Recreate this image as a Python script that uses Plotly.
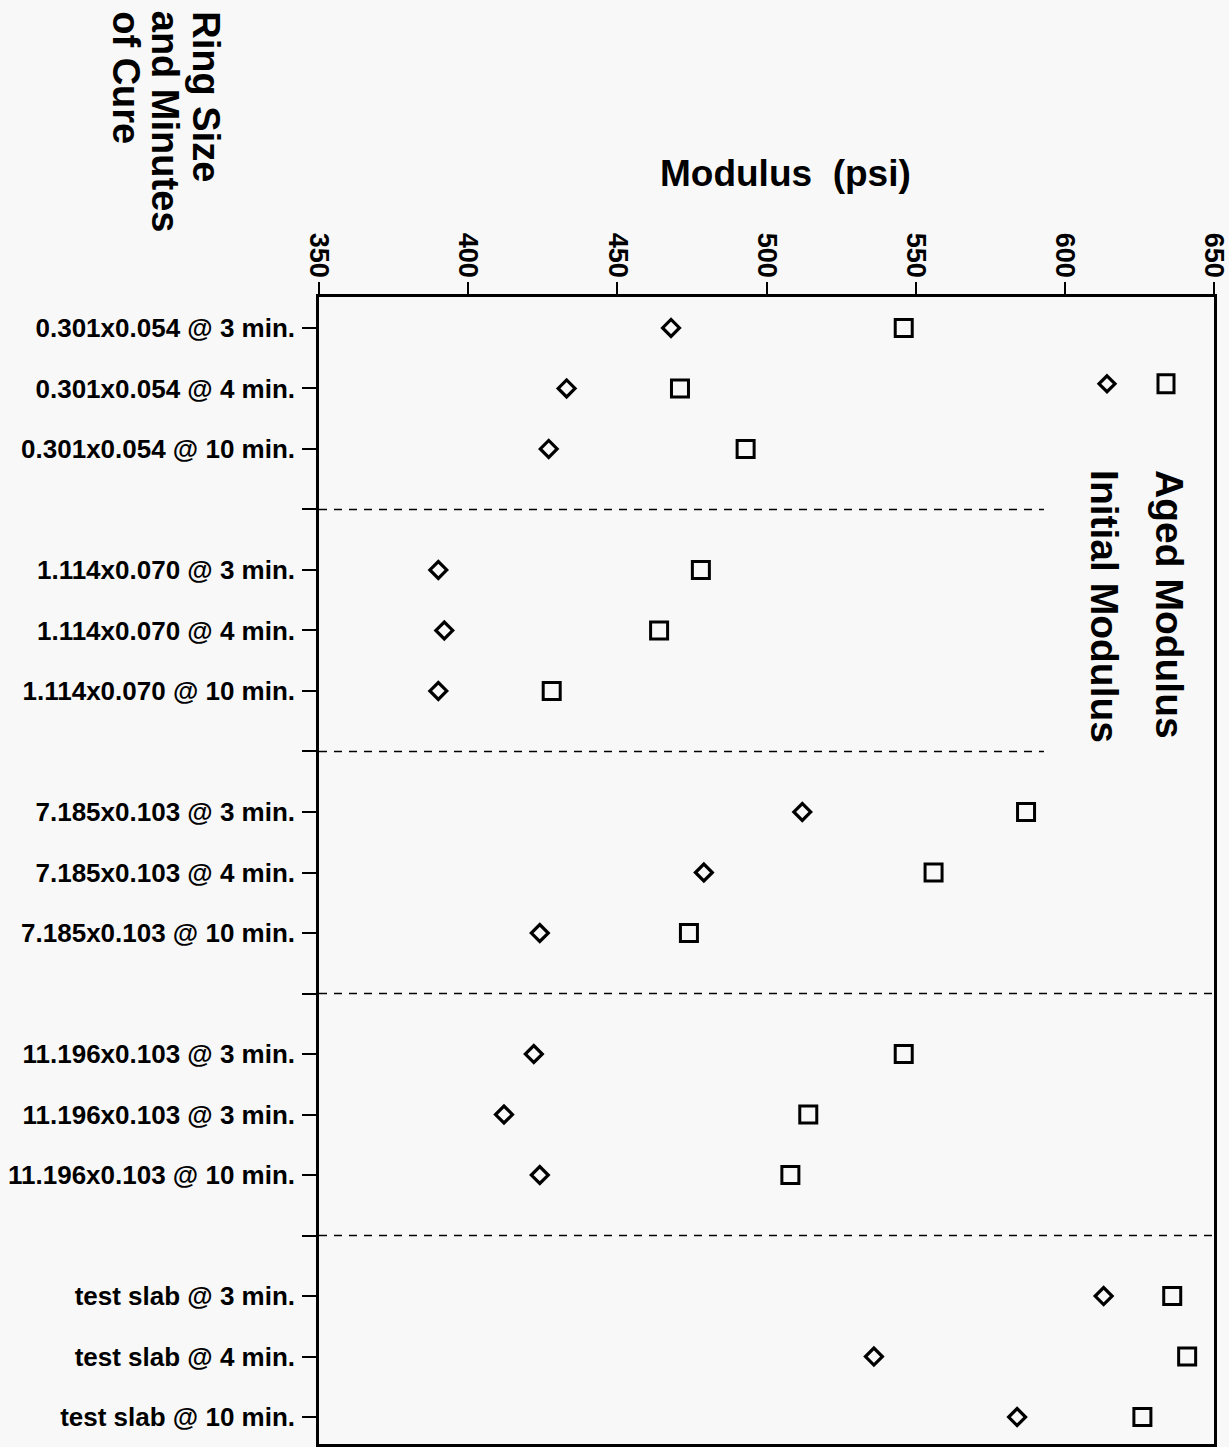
import plotly.graph_objects as go

# ---------------- data ----------------
categories = [
    "0.301x0.054 @ 3 min.", "0.301x0.054 @ 4 min.", "0.301x0.054 @ 10 min.", "",
    "1.114x0.070 @ 3 min.", "1.114x0.070 @ 4 min.", "1.114x0.070 @ 10 min.", "",
    "7.185x0.103 @ 3 min.", "7.185x0.103 @ 4 min.", "7.185x0.103 @ 10 min.", "",
    "11.196x0.103 @ 3 min.", "11.196x0.103 @ 3 min.", "11.196x0.103 @ 10 min.", "",
    "test slab @ 3 min.", "test slab @ 4 min.", "test slab @ 10 min.",
]
initial_modulus = [468, 433, 427, None,
                   390, 392, 390, None,
                   512, 479, 424, None,
                   422, 412, 424, None,
                   613, 536, 584]
aged_modulus = [546, 471, 493, None,
                478, 464, 428, None,
                587, 556, 474, None,
                546, 514, 508, None,
                636, 641, 626]
x_ticks = [350, 400, 450, 500, 550, 600, 650]
separator_rows = [3, 7, 11, 15]
separator_end = [593, 593, 650, 650]

# ---------------- layout geometry ----------------
W, H = 1229, 1447
L, R, T, B = 319, 15, 297, 0
PW, PH = W - L - R, H - T - B
BG = "#f8f8f8"
FONT = "Liberation Sans, Arial, sans-serif"


def px(xp):
    return (xp - L) / PW


def py(yp):
    return (H - B - yp) / PH


rows = list(range(len(categories)))

fig = go.Figure()
fig.add_trace(go.Scatter(
    x=initial_modulus, y=rows, mode="markers", name="Initial Modulus",
    marker=dict(symbol="diamond-open", size=13, color="black",
                line=dict(width=3.2, color="black")),
    showlegend=False,
))
fig.add_trace(go.Scatter(
    x=aged_modulus, y=rows, mode="markers", name="Aged Modulus",
    marker=dict(symbol="square-open", size=17, color="black",
                line=dict(width=3, color="black")),
    showlegend=False,
))

shapes = []
for r, xe in zip(separator_rows, separator_end):
    shapes.append(dict(type="line", xref="x", yref="y", x0=350, x1=xe, y0=r, y1=r,
                       line=dict(color="black", width=1.5, dash="8px,7px")))

# legend keys (drawn in paper space, rotated legend)
sx, sy = 1166, 384
shapes.append(dict(type="rect", xref="paper", yref="paper",
                   x0=px(sx - 8), x1=px(sx + 8), y0=py(sy + 9), y1=py(sy - 9),
                   line=dict(color="black", width=3)))
dx, dy = 1107, 384
path = (f"M {px(dx)} {py(dy - 8)} L {px(dx + 8)} {py(dy)} "
        f"L {px(dx)} {py(dy + 8)} L {px(dx - 8)} {py(dy)} Z")
shapes.append(dict(type="path", xref="paper", yref="paper", path=path,
                   line=dict(color="black", width=3.2)))

annotations = [
    dict(text="Modulus&nbsp; (psi)", xref="paper", yref="paper",
         x=px(785), y=py(173), xanchor="center", yanchor="middle",
         showarrow=False, font=dict(family=FONT, size=37, color="black", weight="bold")),
    dict(text="Aged Modulus", xref="paper", yref="paper", textangle=90,
         x=px(1170), y=py(468), xanchor="center", yanchor="top",
         showarrow=False, font=dict(family=FONT, size=39, color="black", weight="bold")),
    dict(text="Initial Modulus", xref="paper", yref="paper", textangle=90,
         x=px(1105), y=py(468), xanchor="center", yanchor="top",
         showarrow=False, font=dict(family=FONT, size=39, color="black", weight="bold")),
]
for txt, cx in [("Ring Size", 206), ("and Minutes", 165), ("of Cure", 126)]:
    annotations.append(dict(text=txt, xref="paper", yref="paper", textangle=90,
                            x=px(cx), y=py(8), xanchor="center", yanchor="top",
                            showarrow=False,
                            font=dict(family=FONT, size=38, color="black", weight="bold")))

fig.update_layout(
    width=W, height=H,
    margin=dict(l=L, r=R, t=T, b=B, pad=0),
    paper_bgcolor=BG, plot_bgcolor=BG,
    shapes=shapes, annotations=annotations,
    showlegend=False,
)
fig.update_xaxes(
    side="top", range=[350, 650], tickvals=x_ticks,
    ticktext=[str(v) for v in x_ticks], tickangle=90,
    ticks="outside", ticklen=12, tickwidth=2, tickcolor="black",
    showline=True, linewidth=2.5, linecolor="black", mirror=True,
    showgrid=False, zeroline=False, ticklabelstandoff=-5,
    ticklabeloverflow="allow",
    tickfont=dict(family=FONT, size=27, color="black", weight="bold"),
)
fig.update_yaxes(
    range=[18.445, -0.511], tickvals=rows, ticktext=categories,
    ticks="outside", ticklen=14, tickwidth=2, tickcolor="black",
    showline=True, linewidth=2.5, linecolor="black", mirror=True,
    showgrid=False, zeroline=False, ticklabelstandoff=2,
    ticklabeloverflow="allow",
    tickfont=dict(family=FONT, size=26, color="black", weight="bold"),
)

fig.write_html(
    "out.html",
    config={"displayModeBar": False},
    post_script="document.body.style.margin='0';document.body.style.overflow='hidden';"
                "document.documentElement.style.overflow='hidden';"
                "document.body.style.background='" + BG + "';",
)
